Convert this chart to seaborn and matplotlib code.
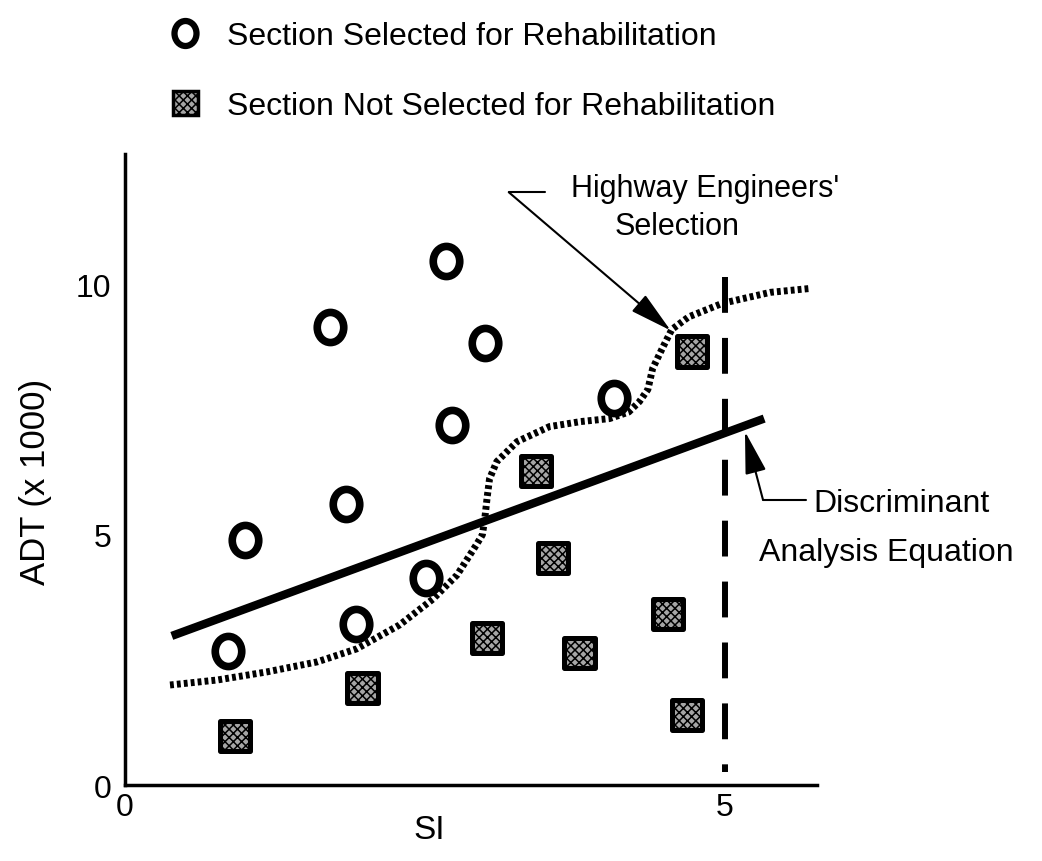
import matplotlib
matplotlib.use('Agg')
import matplotlib.pyplot as plt
import seaborn as sns
from matplotlib.lines import Line2D
from matplotlib.patches import Patch
from matplotlib.path import Path

# sections selected for rehabilitation (SI, ADT in thousands)
sel_si = [0.86, 1.0, 1.71, 1.84, 1.93, 2.51, 2.68, 2.73, 3.0, 4.08]
sel_adt = [2.68, 4.9, 9.14, 5.62, 3.22, 4.14, 10.46, 7.2, 8.82, 7.74]

# sections not selected
not_si = [0.92, 1.98, 3.02, 3.43, 3.57, 3.79, 4.53, 4.69, 4.73]
not_adt = [0.98, 1.94, 2.94, 6.28, 4.54, 2.64, 3.42, 1.4, 8.66]

# highway engineers' selection boundary
hwy_si = [0.375, 0.77, 1.18, 1.6, 1.93, 2.29, 2.57, 2.77, 2.93, 2.98, 3.0,
          3.02, 3.04, 3.1, 3.27, 3.54, 3.8, 4.04, 4.2, 4.29, 4.36, 4.4,
          4.48, 4.56, 4.7, 4.98, 5.38, 5.72]
hwy_adt = [2.0, 2.1, 2.26, 2.46, 2.72, 3.2, 3.72, 4.2, 4.8, 5.0, 5.32,
           5.75, 6.12, 6.46, 6.86, 7.16, 7.26, 7.32, 7.45, 7.66, 7.9, 8.32,
           8.72, 9.1, 9.35, 9.62, 9.84, 9.92]

# discriminant analysis equation
disc_si = [0.39, 5.33]
disc_adt = [2.98, 7.32]

# SI = 5 cut-off
cut_si = [5, 5]
cut_adt = [10.15, 0.26]

x_ticks = [0, 1, 2, 3, 4, 5]
x_labels = ['0', '', '', '', '', '5']
y_ticks = [0, 5, 10]
y_labels = ['0', '5', '10']

sns.set_style('white')
plt.rcParams['font.family'] = ['Liberation Sans', 'DejaVu Sans']
plt.rcParams['text.color'] = 'black'
plt.rcParams['axes.labelcolor'] = 'black'
plt.rcParams['hatch.linewidth'] = 1.1

fig = plt.figure(figsize=(10.42, 8.62), dpi=100)
ax = fig.add_axes([0.12, 0.088, 0.664, 0.732])

# slightly tall ring like the original
circ = Path.unit_circle()
ring = Path(circ.vertices * [0.88, 1.0], circ.codes)
sq_face = '#a6a6a6'
sq_hatch = 'xxxx'

sns.scatterplot(x=sel_si, y=sel_adt, marker=ring, s=470, facecolor='white',
                edgecolor='black', linewidth=5.5, ax=ax, zorder=3, legend=False)
sns.scatterplot(x=not_si, y=not_adt, marker='s', s=470, facecolor=sq_face,
                edgecolor='black', linewidth=3.6, hatch=sq_hatch, ax=ax,
                zorder=3, legend=False)

sns.lineplot(x=disc_si, y=disc_adt, color='black', linewidth=6,
             solid_capstyle='butt', ax=ax, zorder=4)
sns.lineplot(x=hwy_si, y=hwy_adt, color='black', linewidth=5,
             linestyle=(0, (0.55, 0.45)), ax=ax, zorder=4)
ax.plot(cut_si, cut_adt, color='black', linewidth=4.3,
        linestyle=(0, (6, 4.2)), zorder=4)

ax.set_xlim(0, 5.77)
ax.set_ylim(0, 12.6)
ax.set_xticks(x_ticks)
ax.set_xticklabels(x_labels)
ax.set_yticks(y_ticks)
ax.set_yticklabels(y_labels)
ax.tick_params(direction='in', length=21, width=1.5, labelsize=23,
               colors='black')
ax.tick_params(axis='x', pad=5)
ax.tick_params(axis='y', pad=10)
# the first SI tick is drawn shorter in the original
ax.xaxis.get_major_ticks()[1].tick1line.set_markersize(16)
for s in ['top', 'right']:
    ax.spines[s].set_visible(False)
for s in ['left', 'bottom']:
    ax.spines[s].set_linewidth(2.5)
    ax.spines[s].set_color('black')

ax.set_xlabel('SI', fontsize=24)
ax.xaxis.set_label_coords(0.44, -0.046)
ax.set_ylabel('ADT (x 1000)', fontsize=25)
ax.yaxis.set_label_coords(-0.105, 0.482)

# annotations
arrow = dict(arrowstyle='-|>,head_length=1.2,head_width=0.3', color='black',
             lw=1.5, shrinkA=0, shrinkB=0, mutation_scale=22)
ax.annotate('', xy=(4.55, 9.08), xytext=(3.2, 11.84), arrowprops=arrow)
ax.plot([3.2, 3.5], [11.84, 11.84], color='black', lw=1.5, clip_on=False)
ax.text(4.84, 11.93, "Highway Engineers'", ha='center', va='center',
        fontsize=22)
ax.text(4.6, 11.17, 'Selection', ha='center', va='center', fontsize=22)

ax.annotate('', xy=(5.17, 7.06), xytext=(5.32, 5.7), arrowprops=arrow)
ax.plot([5.32, 5.68], [5.7, 5.7], color='black', lw=1.5, clip_on=False)
ax.text(5.74, 5.64, 'Discriminant', ha='left', va='center', fontsize=23,
        clip_on=False)
ax.text(5.29, 4.66, 'Analysis Equation', ha='left', va='center',
        fontsize=23, clip_on=False)

handles = [
    Line2D([], [], marker=ring, ls='none', mfc='white', mec='black', mew=4.5,
           ms=18),
    Patch(facecolor=sq_face, edgecolor='black', hatch=sq_hatch, lw=2.5),
]
labels = ['Section Selected for Rehabilitation',
          'Section Not Selected for Rehabilitation']
fig.legend(handles, labels, loc='upper left',
           bbox_to_anchor=(173 / 1042, 1 - 22 / 862), frameon=False,
           fontsize=23, handlelength=0.78, handleheight=0.78,
           handletextpad=0.9, labelspacing=1.25, borderpad=0,
           borderaxespad=0)

fig.savefig('out.png', dpi=100)
